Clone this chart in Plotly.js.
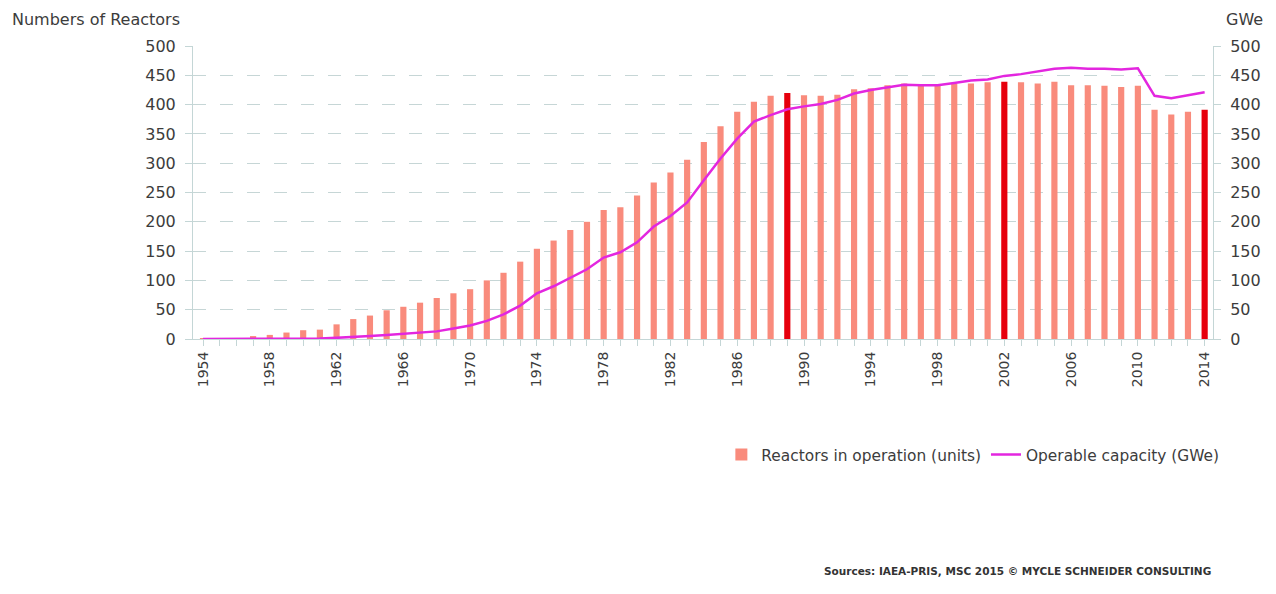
<!DOCTYPE html>
<html>
<head>
<meta charset="utf-8">
<script src="https://cdn.plot.ly/plotly-3.0.1.min.js"></script>
<style>html,body{margin:0;padding:0;background:#fff;}#chart{width:1276px;height:594px;}</style>
</head>
<body>
<div id="chart"></div>
<script>
const years = [];
for (let y = 1954; y <= 2014; y++) years.push(y);

// Reactors in operation (units), 1954..2014
const reactors = [
  1, 1, 1, 5, 7, 11, 15, 16, 25, 34,        // 1954-1963
  40, 49, 55, 62, 70, 78, 85, 100, 113, 132, // 1964-1973
  154, 168, 186, 200, 220, 225, 245, 267, 284, 306, // 1974-1983
  336, 363, 388, 405, 415, 420, 416, 415, 417, 426, // 1984-1993
  428, 433, 436, 435, 433, 435, 436, 438, 439, 438, // 1994-2003
  436, 439, 433, 433, 432, 430, 432, 391, 383, 388, // 2004-2013
  391                                         // 2014
];

// Operable capacity (GWe), 1954..2014
const capacity = [
  0, 0, 0, 0, 0, 0, 1, 1, 2, 3,             // 1954-1963
  5, 7, 9, 11, 13, 18, 23, 31, 42, 57,       // 1964-1973
  78, 90, 104, 119, 139, 148, 165, 192, 210, 233, // 1974-1983
  271, 308, 342, 371, 382, 392, 397, 401, 408, 419, // 1984-1993
  425, 429, 434, 433, 433, 437, 441, 443, 449, 452, // 1994-2003
  456, 461, 463, 461, 461, 460, 462, 415, 411, 416, // 2004-2013
  421                                         // 2014
];

const highlightYears = [1989, 2002, 2014];
const barColor = '#f98b7c';
const highlightColor = '#e6000d';
const lineColor = '#e326df';

const barColors = years.map(y => highlightYears.includes(y) ? highlightColor : barColor);

const FONT = 'DejaVu Sans, sans-serif';
const TXT = '#3c3c3c';
const GRID = '#c6d6d6';
const AXIS = '#c4d6d6';

const traces = [
  {
    type: 'bar',
    name: 'Reactors in operation (units)',
    x: years,
    y: reactors,
    width: 0.37,
    marker: {color: barColors},
    yaxis: 'y',
    hoverinfo: 'x+y'
  },
  {
    type: 'scatter',
    mode: 'lines',
    name: 'Operable capacity (GWe)',
    x: years,
    y: capacity,
    line: {color: lineColor, width: 2.5},
    yaxis: 'y2',
    hoverinfo: 'x+y'
  }
];

const layout = {
  width: 1276,
  height: 594,
  margin: {l: 193, r: 63, t: 46, b: 255},
  paper_bgcolor: '#ffffff',
  plot_bgcolor: '#ffffff',
  font: {family: FONT, color: TXT, size: 16},
  showlegend: true,
  xaxis: {
    range: [1953.4, 2014.5],
    tick0: 1954,
    dtick: 4,
    tickangle: -90,
    ticks: 'outside',
    ticklen: 6,
    tickcolor: AXIS,
    tickfont: {family: FONT, size: 14, color: TXT},
    showline: true,
    linecolor: AXIS,
    linewidth: 1,
    showgrid: false,
    zeroline: false,
    minor: {dtick: 1, tick0: 1954, ticks: 'outside', ticklen: 6, tickcolor: AXIS, showgrid: false},
    fixedrange: true
  },
  yaxis: {
    range: [0, 500],
    dtick: 50,
    tick0: 0,
    ticks: 'outside',
    ticklen: 7,
    tickcolor: AXIS,
    ticklabelstandoff: 6,
    tickfont: {family: FONT, size: 16, color: TXT},
    showline: true,
    linecolor: AXIS,
    showgrid: true,
    gridcolor: GRID,
    griddash: '13px,14px',
    gridwidth: 1,
    zeroline: false,
    fixedrange: true
  },
  yaxis2: {
    range: [0, 500],
    dtick: 50,
    tick0: 0,
    overlaying: 'y',
    side: 'right',
    ticks: 'outside',
    ticklen: 7,
    tickcolor: AXIS,
    ticklabelstandoff: 6,
    tickfont: {family: FONT, size: 16, color: TXT},
    showline: true,
    linecolor: AXIS,
    showgrid: false,
    zeroline: false,
    fixedrange: true
  },
  legend: {
    orientation: 'h',
    x: 0.518,
    xanchor: 'left',
    y: -0.396,
    yanchor: 'middle',
    font: {family: FONT, size: 15.4, color: TXT},
    itemwidth: 30,
    bgcolor: 'rgba(0,0,0,0)'
  },
  annotations: [
    {text: 'Numbers of Reactors', xref: 'paper', yref: 'paper', x: -0.1794, y: 1.092,
     xanchor: 'left', yanchor: 'middle', showarrow: false, font: {family: FONT, size: 16, color: TXT}},
    {text: 'GWe', xref: 'paper', yref: 'paper', x: 1.051, y: 1.092,
     xanchor: 'right', yanchor: 'middle', showarrow: false, font: {family: FONT, size: 16, color: TXT}},
    {text: 'Sources: IAEA-PRIS, MSC 2015 \u00A9 MYCLE SCHNEIDER CONSULTING', xref: 'paper', yref: 'paper',
     x: 1.0, y: -0.792, xanchor: 'right', yanchor: 'middle', showarrow: false,
     font: {family: 'DejaVu Sans, sans-serif', size: 10.5, color: '#333', weight: 'bold'}}
  ]
};

Plotly.newPlot('chart', traces, layout, {displayModeBar: false});
</script>
</body>
</html>
